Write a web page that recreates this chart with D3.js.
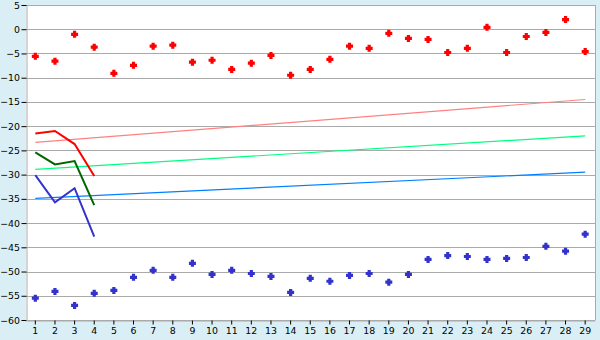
<!DOCTYPE html>
<html><head><meta charset="utf-8">
<script src="https://cdn.jsdelivr.net/npm/d3@7"></script>
<style>
html,body{margin:0;padding:0;background:#d9eff5;}
svg{display:block;}
text{font-family:"DejaVu Sans",Verdana,sans-serif;font-size:9.4px;fill:#000;}
</style></head><body>
<svg id="c" width="600" height="340"></svg>
<script>
const categories = d3.range(1, 30).map(String);
const yTicks = [5,0,-5,-10,-15,-20,-25,-30,-35,-40,-45,-50,-55,-60];

const redPoints = [-5.6,-6.6,-1.05,-3.7,-9.1,-7.45,-3.5,-3.3,-6.8,-6.4,-8.3,-7.0,-5.4,-9.5,-8.3,-6.2,-3.5,-3.95,-0.85,-1.9,-2.1,-4.8,-3.95,0.4,-4.8,-1.5,-0.65,2.0,-4.6];
const bluePoints = [-55.5,-54.1,-57.0,-54.5,-53.9,-51.2,-49.75,-51.2,-48.3,-50.6,-49.75,-50.4,-51.0,-54.3,-51.4,-52.0,-50.8,-50.4,-52.2,-50.6,-47.5,-46.7,-46.9,-47.5,-47.3,-47.1,-44.8,-45.8,-42.3];

const redLine = [-21.5,-21.0,-23.7,-30.3];
const greenLine = [-25.4,-27.9,-27.2,-36.3];
const blueLine = [-30.1,-35.7,-32.8,-42.8];

const trendCats = ["1","29"];
const redTrend = [-23.35,-14.5];
const greenTrend = [-28.9,-22.0];
const blueTrend = [-34.9,-29.5];

const svg = d3.select("#c");
const L = 26, R = 595, T = 5, B = 320;
const x = d3.scaleBand().domain(categories).range([25.5, 595]);
const cx = c => x(c) + x.bandwidth()/2;
const y = d3.scaleLinear().domain([-60,5]).range([B,T]);

svg.append("rect").attr("x",L).attr("y",T).attr("width",R-L).attr("height",B-T).attr("fill","#fff");

// gridlines
svg.append("g").selectAll("line").data(yTicks).join("line")
  .attr("x1",L).attr("x2",R)
  .attr("y1",d=>Math.round(y(d))+0.5).attr("y2",d=>Math.round(y(d))+0.5)
  .attr("stroke","#aaaaaa").attr("stroke-width",1);
// right border
svg.append("line").attr("x1",R+0.5).attr("x2",R+0.5).attr("y1",T).attr("y2",B)
  .attr("stroke","#aaaaaa");

// axes
const gy = svg.append("g").attr("transform",`translate(${L+0.5},0)`)
  .call(d3.axisLeft(y).tickValues(yTicks).tickSize(5).tickPadding(1.5));
gy.select(".domain").attr("stroke","#aaaaaa");
gy.selectAll(".tick line").attr("stroke","#000");
gy.attr("font-size",null).attr("font-family",null);

const gx = svg.append("g").attr("transform",`translate(0,${B+0.5})`)
  .call(d3.axisBottom(x).tickSize(4).tickPadding(3).tickSizeOuter(0));
gx.select(".domain").attr("stroke","#aaaaaa");
gx.selectAll(".tick line").attr("stroke","#000");
gx.attr("font-size",null).attr("font-family",null);

// trend lines
const tl = d3.line().x((d,i)=>cx(trendCats[i])).y(d=>y(d));
[[redTrend,"#ff8080"],[greenTrend,"#00ff80"],[blueTrend,"#0080ff"]].forEach(([d,c])=>{
  svg.append("path").attr("d",tl(d)).attr("fill","none").attr("stroke",c).attr("stroke-width",1.2);
});

// main lines
const ml = d3.line().x((d,i)=>cx(categories[i])).y(d=>y(d));
[[redLine,"#ff0000"],[greenLine,"#006600"],[blueLine,"#3333cc"]].forEach(([d,c])=>{
  svg.append("path").attr("d",ml(d)).attr("fill","none").attr("stroke",c).attr("stroke-width",2);
});

// points: thick plus marker
const thickPlus = {draw(ctx){ const a=3.5,b=1.6;
  ctx.moveTo(-b,-a);ctx.lineTo(b,-a);ctx.lineTo(b,-b);ctx.lineTo(a,-b);ctx.lineTo(a,b);
  ctx.lineTo(b,b);ctx.lineTo(b,a);ctx.lineTo(-b,a);ctx.lineTo(-b,b);ctx.lineTo(-a,b);
  ctx.lineTo(-a,-b);ctx.lineTo(-b,-b);ctx.closePath(); }};
const sym = d3.symbol().type(thickPlus);
svg.append("g").selectAll("path").data(redPoints).join("path")
  .attr("transform",(d,i)=>`translate(${cx(categories[i])},${y(d)})`)
  .attr("d",sym).attr("fill","#ff0000");
svg.append("g").selectAll("path").data(bluePoints).join("path")
  .attr("transform",(d,i)=>`translate(${cx(categories[i])},${y(d)})`)
  .attr("d",sym).attr("fill","#3333cc");
</script>
</body></html>
